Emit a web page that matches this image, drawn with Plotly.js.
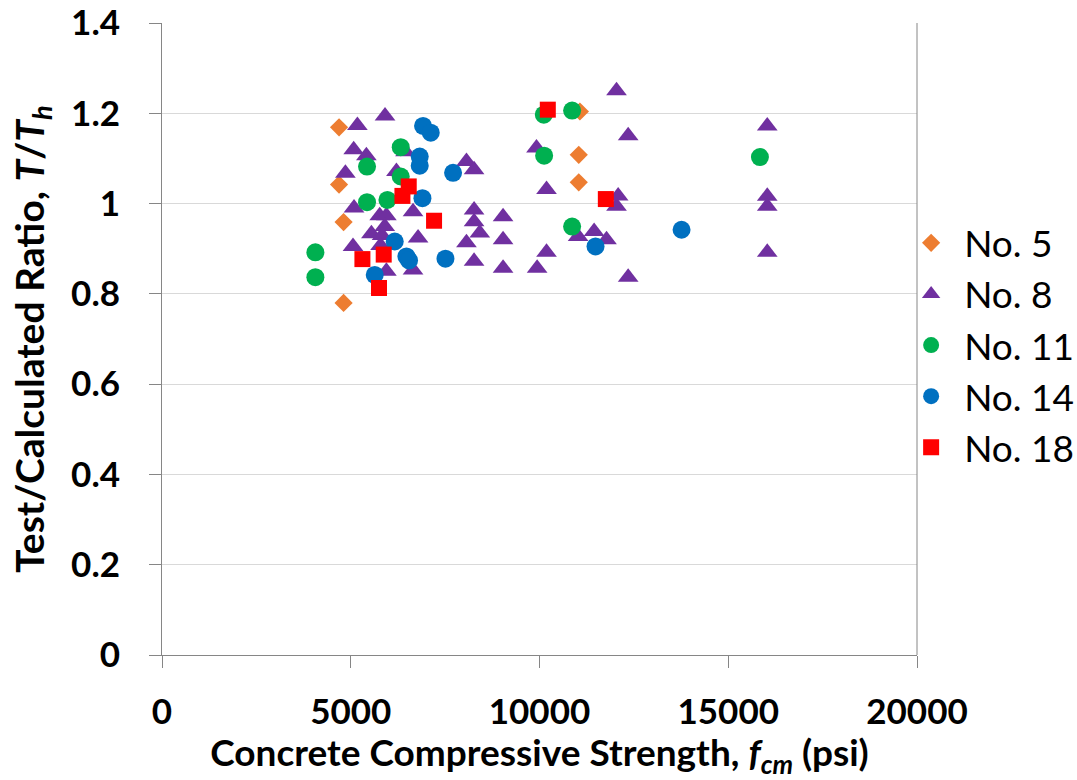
<!DOCTYPE html>
<html>
<head>
<meta charset="utf-8">
<script src="https://cdn.plot.ly/plotly-3.0.1.min.js"></script>
<style>html,body{margin:0;padding:0;background:#fff}#chart{width:1077px;height:780px}</style>
</head>
<body>
<div id="chart"></div>
<script>
// No. 5 bars (orange diamonds)
var x5 = [4690, 4690, 4810, 4810, 11070, 11040, 11040];
var y5 = [1.169, 1.042, 0.959, 0.780, 1.204, 1.108, 1.047];

// No. 8 bars (purple triangles)
var x8 = [5176, 5908, 5078, 5414, 4858, 6210, 6450, 5087, 5767, 5944, 6650, 5900, 5547, 5830, 6783, 5060, 5790, 5944, 6650,
          8065, 8267, 8267, 8267, 8418, 8065, 8267, 12040, 12349, 9920, 10186, 12084, 12040, 9035, 9035, 11023, 11447, 11775,
          10186, 9035, 9937, 12349, 16033, 16033, 16033, 16033];
var y8 = [1.173, 1.194, 1.119, 1.106, 1.067, 1.071, 1.115, 0.990, 0.973, 0.973, 0.982, 0.949, 0.933, 0.929, 0.924, 0.905, 0.907, 0.850, 0.853,
          1.093, 1.075, 0.986, 0.960, 0.935, 0.913, 0.872, 1.250, 1.150, 1.123, 1.031, 1.017, 0.994, 0.971, 0.920, 0.927, 0.938, 0.920,
          0.892, 0.857, 0.857, 0.837, 1.172, 1.016, 0.994, 0.892];

// No. 11 bars (green circles)
var x11 = [6324, 5431, 6324, 5431, 5971, 4063, 4063, 10114, 10864, 10123, 10864, 15839];
var y11 = [1.125, 1.082, 1.060, 1.003, 1.008, 0.892, 0.837, 1.197, 1.206, 1.106, 0.949, 1.103];

// No. 14 bars (blue circles)
var x14 = [6915, 7119, 6827, 6827, 7710, 6899, 6165, 6475, 6544, 7509, 5635, 11484, 13763];
var y14 = [1.172, 1.157, 1.104, 1.084, 1.068, 1.012, 0.916, 0.883, 0.874, 0.878, 0.842, 0.905, 0.942];

// No. 18 bars (red squares)
var x18 = [6536, 6369, 7207, 5309, 5873, 5749, 10220, 11757];
var y18 = [1.038, 1.017, 0.962, 0.877, 0.887, 0.813, 1.208, 1.010];

var seriesNames = ['No. 5', 'No. 8', 'No. 11', 'No. 14', 'No. 18'];
var xTickVals = [0, 5000, 10000, 15000, 20000];
var xTickText = ['0', '5000', '10000', '15000', '20000'];
var yTickVals = [0, 0.2, 0.4, 0.6, 0.8, 1, 1.2, 1.4];
var yTickText = ['0', '0.2', '0.4', '0.6', '0.8', '1', '1.2', '1.4'];

var FONT = 'Lato, "Liberation Sans", sans-serif';

function tr(x, y, name, color, symbol, size) {
  return {x: x, y: y, name: name, type: 'scatter', mode: 'markers',
          marker: {color: color, symbol: symbol, size: size, line: {width: 0}}, cliponaxis: false};
}

var data = [
  tr(x5, y5, seriesNames[0], '#ED7D31', 'diamond', 14),
  tr(x8, y8, seriesNames[1], '#7030A0', 'triangle-up', 18),
  tr(x11, y11, seriesNames[2], '#00B050', 'circle', 18),
  tr(x14, y14, seriesNames[3], '#0070C0', 'circle', 18),
  tr(x18, y18, seriesNames[4], '#FF0000', 'square', 16)
];

var layout = {
  width: 1077, height: 780,
  margin: {l: 162, r: 160, t: 23, b: 125, autoexpand: false},
  paper_bgcolor: '#fff', plot_bgcolor: '#fff',
  showlegend: true,
  legend: {x: 0.975, xanchor: 'left', y: 0.49, yanchor: 'middle',
           font: {family: FONT, size: 37, color: '#000'}, itemsizing: 'trace', itemwidth: 56,
           bgcolor: 'rgba(0,0,0,0)'},
  xaxis: {range: [0, 20000], tickvals: xTickVals, ticktext: xTickText,
          showgrid: false, zeroline: false, showline: true, linecolor: '#868686', linewidth: 1,
          ticks: 'outside', ticklen: 12, tickcolor: '#868686', ticklabelstandoff: 14,
          tickfont: {family: FONT, size: 35, color: '#000', weight: 'bold'},
          title: {text: 'Concrete Compressive Strength, <i>f<sub>cm</sub></i> (psi)', standoff: 15,
                  font: {family: FONT, size: 37, color: '#000', weight: 'bold'}},
          fixedrange: true},
  yaxis: {range: [0, 1.4], tickvals: yTickVals, ticktext: yTickText,
          showgrid: true, gridcolor: '#d9d9d9', gridwidth: 1, zeroline: false,
          showline: true, linecolor: '#868686', linewidth: 1,
          ticks: 'outside', ticklen: 12, tickcolor: '#868686', ticklabelstandoff: 22,
          tickfont: {family: FONT, size: 35, color: '#000', weight: 'bold'},
          title: {text: 'Test/Calculated Ratio, <i>T</i>/<i>T<sub>h</sub></i>', standoff: 14,
                  font: {family: FONT, size: 39, color: '#000', weight: 'bold'}},
          fixedrange: true},
  shapes: [{type: 'line', xref: 'paper', yref: 'paper', x0: 1, x1: 1, y0: 0, y1: 1,
            line: {color: '#868686', width: 1}}]
};

Plotly.newPlot('chart', data, layout, {displayModeBar: false, staticPlot: true});
</script>
</body>
</html>
